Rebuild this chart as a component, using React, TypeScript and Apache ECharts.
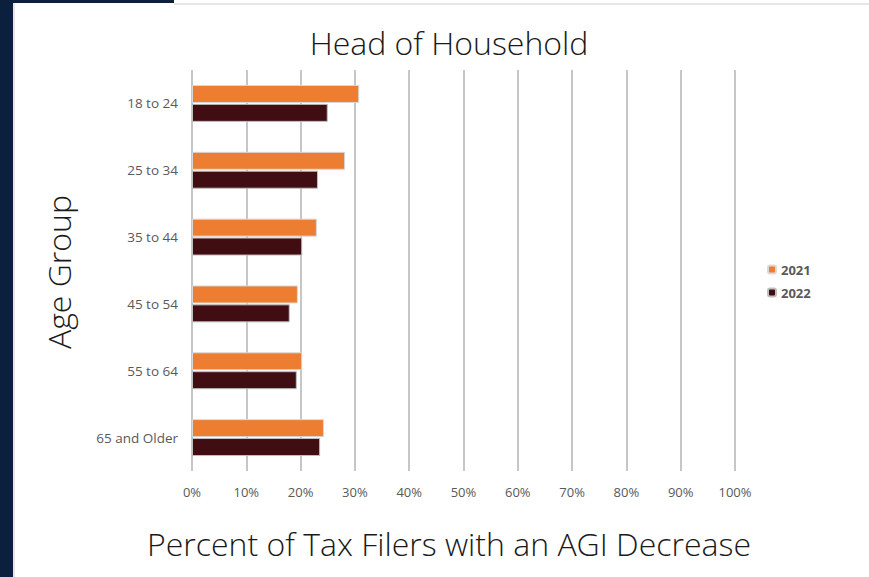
import React, { useEffect, useRef } from "react";
import * as echarts from "echarts";

const categories = ["18 to 24", "25 to 34", "35 to 44", "45 to 54", "55 to 64", "65 and Older"];
const values2021 = [30.8, 28.2, 23.0, 19.5, 20.3, 24.3];
const values2022 = [25.0, 23.2, 20.3, 18.0, 19.3, 23.6];
const seriesNames = ["2021", "2022"];
const titleText = "Head of Household";
const xTitle = "Percent of Tax Filers with an AGI Decrease";
const yTitle = "Age Group";

export default function App() {
  const ref = useRef<HTMLDivElement>(null);
  useEffect(() => {
    const chart = echarts.init(ref.current!, null, { renderer: "svg" });
    const navy = "#0b203d";
    const bigFont = "300 32px 'Open Sans'";
    chart.setOption({
      animation: false,
      backgroundColor: "#ffffff",
      graphic: [
        { type: "rect", shape: { x: 0, y: 0, width: 13, height: 577 }, style: { fill: navy }, z: 10 },
        { type: "rect", shape: { x: 0, y: 0, width: 174, height: 3 }, style: { fill: navy }, z: 10 },
        { type: "rect", shape: { x: 13, y: 3, width: 2, height: 574 }, style: { fill: "#e6e6e6" }, z: 10 },
        { type: "rect", shape: { x: 174, y: 3, width: 695, height: 2 }, style: { fill: "#e6e6e6" }, z: 10 },
        {
          type: "text", x: 449, y: 42,
          style: { text: titleText, fill: "#1a1a1a", font: bigFont, align: "center", verticalAlign: "middle" },
        },
        {
          type: "text", x: 449, y: 543,
          style: { text: xTitle, fill: "#1a1a1a", font: bigFont, align: "center", verticalAlign: "middle" },
        },
        {
          type: "text", x: 58, y: 272, rotation: Math.PI / 2,
          style: { text: yTitle, fill: "#1a1a1a", font: bigFont, align: "center", verticalAlign: "middle" },
        },
      ],
      legend: {
        orient: "vertical",
        left: 762,
        top: 258,
        itemWidth: 8,
        itemHeight: 8,
        itemGap: 10,
        data: seriesNames,
        textStyle: { color: "#595959", fontSize: 13, fontWeight: "bold", fontFamily: "Open Sans" },
      },
      grid: { left: 192, right: 134, top: 70, bottom: 106 },
      xAxis: {
        type: "value",
        min: 0,
        max: 100,
        interval: 10,
        axisLabel: { formatter: "{value}%", color: "#595959", fontSize: 13, fontFamily: "Open Sans", margin: 14 },
        axisLine: { show: false },
        axisTick: { show: false },
        splitLine: { lineStyle: { color: "#b3b3b3", width: 1.5 } },
      },
      yAxis: {
        type: "category",
        inverse: true,
        data: categories,
        axisLabel: { color: "#595959", fontSize: 13.5, fontFamily: "Open Sans", margin: 14 },
        axisLine: { show: false },
        axisTick: { show: false },
      },
      series: [
        {
          name: seriesNames[0], type: "bar", data: values2021, barWidth: 18, barGap: "5%",
          itemStyle: { color: "#ed7d31", borderColor: "#d9d9d9", borderWidth: 1 },
        },
        {
          name: seriesNames[1], type: "bar", data: values2022, barWidth: 18, barGap: "5%",
          itemStyle: { color: "#3f0d12", borderColor: "#bfbfbf", borderWidth: 1 },
        },
      ],
    });
    return () => chart.dispose();
  }, []);
  return <div ref={ref} style={{ position: "fixed", left: 0, top: 0, width: 869, height: 577 }} />;
}
